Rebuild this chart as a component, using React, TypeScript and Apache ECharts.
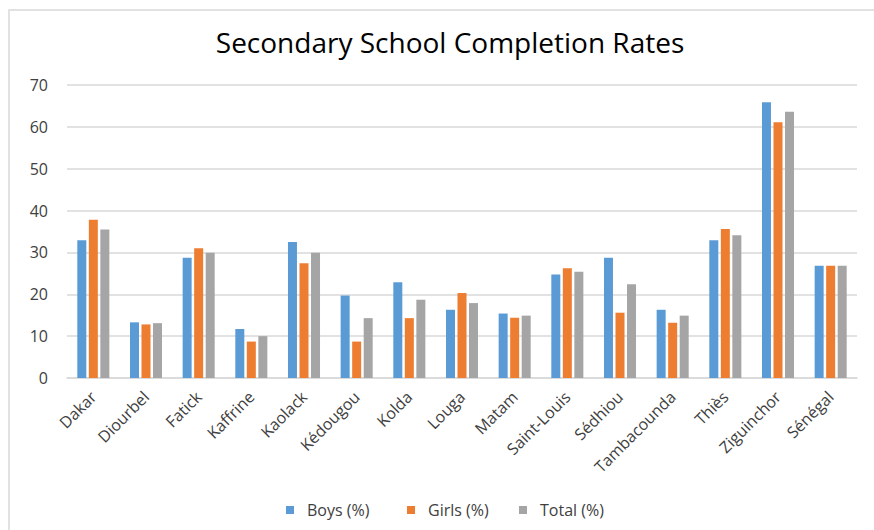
import React, { useEffect, useRef } from "react";
import * as echarts from "echarts";

const categories = ["Dakar", "Diourbel", "Fatick", "Kaffrine", "Kaolack", "Kédougou", "Kolda", "Louga", "Matam", "Saint-Louis", "Sédhiou", "Tambacounda", "Thiès", "Ziguinchor", "Sénégal"];
const boys = [32.9, 13.3, 28.7, 11.7, 32.5, 19.7, 22.9, 16.3, 15.4, 24.7, 28.7, 16.3, 32.9, 65.9, 26.8];
const girls = [37.8, 12.8, 31.0, 8.7, 27.4, 8.7, 14.3, 20.3, 14.4, 26.2, 15.6, 13.2, 35.6, 61.1, 26.8];
const total = [35.5, 13.1, 29.9, 10.0, 29.9, 14.3, 18.7, 17.9, 14.9, 25.4, 22.4, 14.9, 34.1, 63.6, 26.8];
const seriesNames = ["Boys (%)", "Girls (%)", "Total (%)"];
const colors = ["#5B9BD5", "#ED7D31", "#A5A5A5"];
const legendLefts = [281, 402, 514];

export default function App() {
  const ref = useRef<HTMLDivElement>(null);
  useEffect(() => {
    if (!ref.current) return;
    const chart = echarts.init(ref.current, undefined, { renderer: "svg" });
    const data = [boys, girls, total];
    chart.setOption({
      animation: false,
      backgroundColor: "#ffffff",
      title: {
        text: "Secondary School Completion Rates",
        left: 445,
        textAlign: "center",
        top: 23,
        textStyle: { fontFamily: "Open Sans", fontSize: 28, fontWeight: "normal", color: "#000000" },
      },
      graphic: [
        {
          type: "rect",
          shape: { x: 9, y: 10, width: 900, height: 600 },
          style: { fill: "none", stroke: "#d9d9d9", lineWidth: 1.5 },
          silent: true,
        },
      ],
      legend: seriesNames.map((name, i) => ({
        left: legendLefts[i],
        top: 497,
        itemWidth: 8,
        itemHeight: 8,
        icon: "rect",
        data: [name],
        textStyle: { fontFamily: "Open Sans", fontSize: 16, color: "#404040", padding: [0, 0, 0, 8] },
      })),
      grid: { left: 67, right: 17, top: 85, bottom: 152 },
      xAxis: {
        type: "category",
        data: categories,
        axisLine: { lineStyle: { color: "#d9d9d9", width: 1.5 } },
        axisTick: { show: false },
        axisLabel: {
          rotate: 45,
          interval: 0,
          margin: 16,
          fontFamily: "Open Sans",
          fontSize: 16,
          color: "#404040",
        },
      },
      yAxis: {
        type: "value",
        min: 0,
        max: 70,
        interval: 10,
        axisLine: { show: false },
        axisTick: { show: false },
        splitLine: { lineStyle: { color: "#d9d9d9", width: 1.5 } },
        axisLabel: { margin: 19, fontFamily: "Open Sans", fontSize: 16, color: "#404040" },
      },
      series: seriesNames.map((name, i) => ({
        name,
        type: "bar",
        data: data[i],
        barWidth: 9,
        barGap: "28%",
        itemStyle: { color: colors[i] },
      })),
    });
    return () => chart.dispose();
  }, []);
  return <div ref={ref} style={{ position: "fixed", left: 0, top: 0, width: 874, height: 530 }} />;
}
